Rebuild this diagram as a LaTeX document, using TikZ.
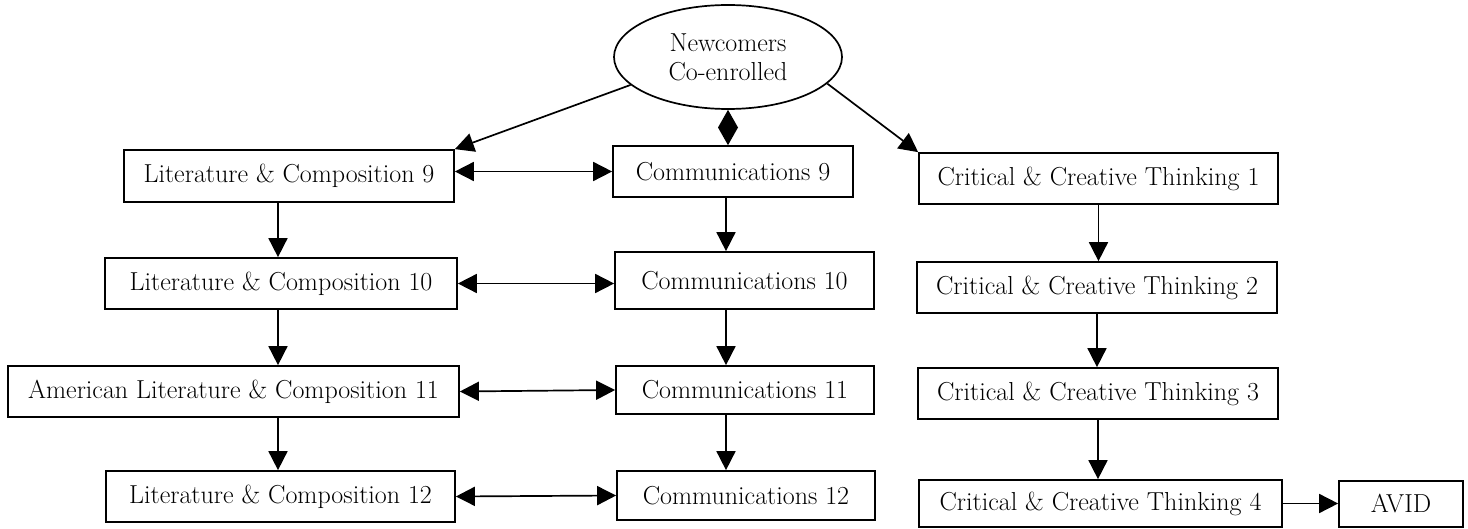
\documentclass[tikz,border=0pt]{standalone}
\usetikzlibrary{arrows.meta,shapes.geometric,calc}
\begin{document}
\begin{tikzpicture}[x=1pt,y=-1pt,
  every node/.style={font=\fontsize{26}{29}\selectfont},
  box/.style={draw, rectangle, line width=1.7pt, inner sep=0pt},
  conn/.style={line width=1.7pt, -{Triangle[length=19pt,width=19pt]}},
  both/.style={line width=1.7pt, {Triangle[length=19pt,width=19pt]}-{Triangle[length=19pt,width=19pt]}}]
\useasboundingbox (0,0) rectangle (1468,529);

\node[draw, ellipse, line width=1.7pt, inner sep=0pt, minimum width=228pt, minimum height=104pt, align=center] (ell) at (728,57) {Newcomers\\Co-enrolled};

\node[box, minimum width=330pt, minimum height=52pt] (lit9) at (289,176) {Literature \& Composition 9};
\node[box, minimum width=240pt, minimum height=51pt] (comm9) at (733,171.5) {Communications 9};
\node[box, minimum width=359pt, minimum height=51pt] (cct1) at (1098.5,178.5) {Critical \& Creative Thinking 1};

\node[box, minimum width=352pt, minimum height=51pt] (lit10) at (281,283.5) {Literature \& Composition 10};
\node[box, minimum width=259pt, minimum height=57pt] (comm10) at (744.5,280.5) {Communications 10};
\node[box, minimum width=360pt, minimum height=51pt] (cct2) at (1097,287.5) {Critical \& Creative Thinking 2};

\node[box, minimum width=451pt, minimum height=51pt] (lit11) at (233.5,391.5) {American Literature \& Composition 11};
\node[box, minimum width=258pt, minimum height=48pt] (comm11) at (745,390) {Communications 11};
\node[box, minimum width=360pt, minimum height=51pt] (cct3) at (1098,393.5) {Critical \& Creative Thinking 3};

\node[box, minimum width=349pt, minimum height=51pt] (lit12) at (280.5,496.5) {Literature \& Composition 12};
\node[box, minimum width=258pt, minimum height=49pt] (comm12) at (746,495.5) {Communications 12};
\node[box, minimum width=363pt, minimum height=47pt] (cct4) at (1100.5,503.5) {Critical \& Creative Thinking 4};
\node[box, minimum width=124pt, minimum height=46pt] (avid) at (1401,504) {AVID};

% axes for vertical arrows
\coordinate (lax) at (278,0);
\coordinate (cax) at (726,0);
\coordinate (dtop) at (ell.south |- comm9.north);
\coordinate (dmid) at ($(ell.south)!0.5!(dtop)$);

% from the ellipse
\draw[conn] (ell.196) -- (lit9.north east);
\draw[conn] (ell.345) -- (cct1.north west);
\fill (ell.south) -- ($(dmid)+(10,0)$) -- (dtop) -- ($(dmid)+(-10,0)$) -- cycle;

% horizontal double arrows
\draw[both] (lit9.east |- comm9.west) -- (comm9.west);
\draw[both] (lit10.east) -- (lit10.east -| comm10.west);
\draw[both] (lit11.east) -- (comm11.west);
\draw[both] (lit12.east) -- (comm12.west);

% left column
\draw[conn] (lit9.south -| lax) -- (lit10.north -| lax);
\draw[conn] (lit10.south -| lax) -- (lit11.north -| lax);
\draw[conn] (lit11.south -| lax) -- (lit12.north -| lax);

% middle column
\draw[conn] (comm9.south -| cax) -- (comm10.north -| cax);
\draw[conn] (comm10.south -| cax) -- (comm11.north -| cax);
\draw[conn] (comm11.south -| cax) -- (comm12.north -| cax);

% right column
\draw[conn] (cct1.south) -- (cct1.south |- cct2.north);
\draw[conn] (cct2.south) -- (cct2.south |- cct3.north);
\draw[conn] (cct3.south) -- (cct3.south |- cct4.north);
\draw[conn] (cct4.east) -- (cct4.east -| avid.west);
\end{tikzpicture}
\end{document}
